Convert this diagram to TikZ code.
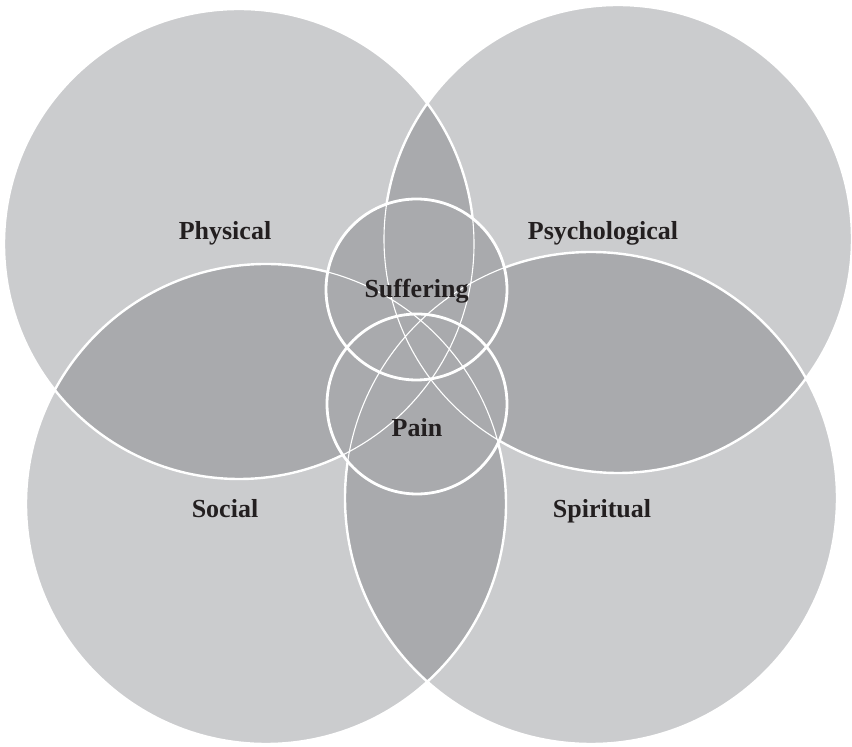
\documentclass[tikz,border=0pt]{standalone}
\usepackage{fontspec}
\setmainfont{Liberation Serif}
\definecolor{petal}{RGB}{203,204,206}
\definecolor{overlap}{RGB}{169,170,173}
\definecolor{ink}{RGB}{35,31,32}
\tikzset{
  lbl/.style={font=\bfseries\fontsize{26}{30}\selectfont, text=ink, anchor=base, inner sep=0pt},
  rim/.style={draw=white, line width=2.4pt},
  fine rim/.style={draw=white, line width=1.1pt},
  core rim/.style={draw=white, line width=2.8pt}
}
% the four dimensions and the two central circles
\newcommand{\physc}{(239,503) circle[radius=235pt]}
\newcommand{\psychc}{(618,508) circle[radius=234pt]}
\newcommand{\socc}{(266,243) circle[radius=240pt]}
\newcommand{\spirc}{(591,249) circle[radius=246pt]}
\newcommand{\suffc}{(416.5,457.5) circle[radius=90.5pt]}
\newcommand{\painc}{(417,343) circle[radius=90pt]}

\begin{document}
\begin{tikzpicture}[x=1pt,y=1pt]
\useasboundingbox (0,0) rectangle (852,747);

% big circles
\fill[petal] \physc \psychc \socc \spirc;

% darker where two circles overlap
\begin{scope}
  \clip \physc;
  \fill[overlap] \psychc \socc \spirc;
\end{scope}
\begin{scope}
  \clip \spirc;
  \fill[overlap] \psychc \socc;
\end{scope}
\begin{scope}
  \clip \psychc;
  \fill[overlap] \socc;
\end{scope}

\path[rim] \physc \psychc \socc \spirc;

% suffering and pain
\fill[overlap] \suffc \painc;
\begin{scope}
  \clip \suffc \painc;
  \path[fine rim] \physc \psychc \socc \spirc;
\end{scope}
\path[core rim] \suffc \painc;

\node[lbl] (physical) at (225,507) {Physical};
\node[lbl] (psychological) at (603,507) {Psychological};
\node[lbl] (suffering) at (416.5,449) {Suffering};
\node[lbl] (pain) at (417,310) {Pain};
\node[lbl] (social) at (225,229) {Social};
\node[lbl] (spiritual) at (602,229) {Spiritual};
\end{tikzpicture}
\end{document}
